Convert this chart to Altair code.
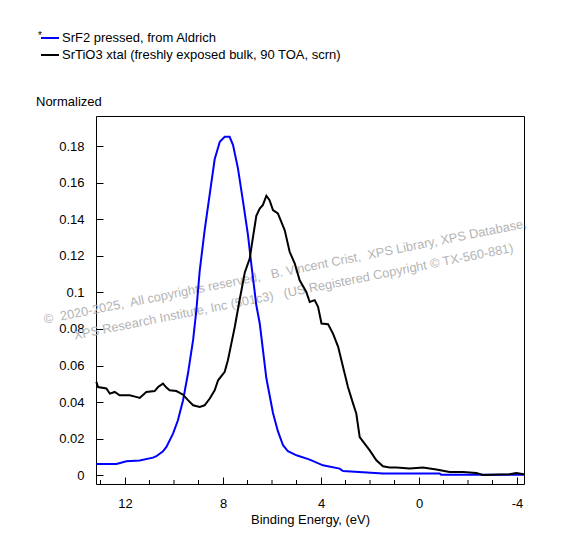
import altair as alt
import pandas as pd

# ---- data ----
srf2_E = [13.17, 12.35, 11.94, 11.40, 10.86, 10.72, 10.45, 10.31, 10.04, 9.84, 9.63, 9.43, 9.22,
          9.09, 8.95, 8.75, 8.54, 8.34, 8.13, 7.93, 7.73, 7.59, 7.39, 7.18, 6.98, 6.84, 6.64, 6.50,
          6.23, 5.96, 5.76, 5.55, 5.35, 5.00, 4.46, 3.92, 3.24, 3.10, 1.47, -0.84, -0.90, -4.28]
srf2_v = [0.0060, 0.0060, 0.0075, 0.0080, 0.0095, 0.0103, 0.0130, 0.0154, 0.0227, 0.0300, 0.0410,
          0.0556, 0.0740, 0.0900, 0.1120, 0.1340, 0.1540, 0.1730, 0.1826, 0.1853, 0.1853, 0.1808,
          0.1680, 0.1497, 0.1314, 0.1150, 0.0930, 0.0830, 0.0530, 0.0340, 0.0240, 0.0163, 0.0130,
          0.0108, 0.0084, 0.0053, 0.0035, 0.0022, 0.0008, 0.0008, 0.0002, 0.0002]

sto_E = [13.17, 13.10, 12.76, 12.62, 12.42, 12.22, 11.81, 11.55, 11.40, 11.13, 10.79, 10.65, 10.45,
         10.31, 10.18, 9.90, 9.63, 9.43, 9.22, 8.95, 8.75, 8.54, 8.34, 8.20, 7.93, 7.80, 7.66, 7.52,
         7.32, 7.11, 6.91, 6.78, 6.64, 6.50, 6.37, 6.23, 6.10, 5.96, 5.76, 5.48, 5.28, 5.07, 4.87,
         4.60, 4.46, 4.26, 4.12, 3.98, 3.71, 3.51, 3.30, 3.10, 2.90, 2.69, 2.56, 2.42, 2.22, 2.01,
         1.74, 1.47, 1.20, 0.92, 0.38, -0.16, -0.71, -1.25, -1.80, -2.34, -2.61, -3.70, -3.97, -4.28]
sto_v = [0.0510, 0.0482, 0.0474, 0.0446, 0.0455, 0.0437, 0.0437, 0.0428, 0.0422, 0.0455, 0.0460,
         0.0482, 0.0501, 0.0479, 0.0464, 0.0460, 0.0440, 0.0410, 0.0382, 0.0373, 0.0382, 0.0419,
         0.0464, 0.0519, 0.0565, 0.0629, 0.0720, 0.0811, 0.0960, 0.1110, 0.1186, 0.1300, 0.1420,
         0.1460, 0.1480, 0.1530, 0.1506, 0.1451, 0.1433, 0.1341, 0.1223, 0.1159, 0.1067, 0.1003,
         0.0948, 0.0958, 0.0921, 0.0830, 0.0826, 0.0775, 0.0702, 0.0592, 0.0482, 0.0391, 0.0337,
         0.0208, 0.0172, 0.0135, 0.0081, 0.0048, 0.0041, 0.0041, 0.0035, 0.0041, 0.0030, 0.0016,
         0.0016, 0.0011, 0.0000, 0.0004, 0.0011, 0.0004]

series_names = ["SrF2 pressed, from Aldrich", "SrTiO3 xtal (freshly exposed bulk, 90 TOA, scrn)"]
series_colors = ["#0000ff", "#000000"]

x_major = [12, 8, 4, 0, -4]
x_minor = [13, 11, 10, 9, 7, 6, 5, 3, 2, 1, -1, -2, -3]
y_major = [0, 0.02, 0.04, 0.06, 0.08, 0.1, 0.12, 0.14, 0.16, 0.18]

wm_text = ["\u00a9\u00a0 2020-2025,\u00a0 All copyrights reserved,\u00a0\u00a0 B. Vincent Crist,\u00a0 XPS Library, XPS Database,",
           "XPS Research Institute, Inc (501c3)\u00a0\u00a0 (US Registered Copyright \u00a9 TX-560-881)"]
wm_E = [5.46, 5.12]
wm_v = [0.1114, 0.1004]

X_DOMAIN = [-4.2857, 13.1837]
Y_DOMAIN = [-0.00493, 0.19671]
W, H = 428, 368
FONT = "Liberation Sans"
FS = 13
TICK = "black"

lines = pd.concat([
    pd.DataFrame({"E": srf2_E, "v": srf2_v, "series": series_names[0]}),
    pd.DataFrame({"E": sto_E, "v": sto_v, "series": series_names[1]}),
])

xscale = alt.Scale(domain=X_DOMAIN, reverse=True, nice=False, zero=False)
yscale = alt.Scale(domain=Y_DOMAIN, nice=False, zero=False)

xaxis = alt.Axis(values=x_major, labelExpr="datum.value + ''", domain=False,
                 offset=-7, tickSize=7, tickWidth=1, tickColor=TICK,
                 labelPadding=13, labelFontSize=FS,
                 labelFont=FONT, labelColor="black", title="Binding Energy, (eV)",
                 titleFont=FONT, titleFontSize=FS, titleFontWeight="normal",
                 titleColor="black", titlePadding=3, grid=False)
yaxis = alt.Axis(values=y_major, labelExpr="datum.value + ''", domain=False,
                 offset=-7, tickSize=7, tickWidth=1, tickColor=TICK,
                 labelPadding=12, labelFontSize=FS,
                 labelFont=FONT, labelColor="black", title="Normalized",
                 titleFont=FONT, titleFontSize=FS, titleFontWeight="normal",
                 titleColor="black", titleAngle=0, titleAlign="left",
                 titleBaseline="alphabetic", titleX=-67.5, titleY=-10.5, grid=False)

line_layer = alt.Chart(lines).mark_line(strokeWidth=2).encode(
    x=alt.X("E:Q", scale=xscale, axis=xaxis),
    y=alt.Y("v:Q", scale=yscale, axis=yaxis),
    color=alt.Color("series:N",
                    scale=alt.Scale(domain=series_names, range=series_colors),
                    legend=alt.Legend(title="*", orient="none", legendX=-58, legendY=-85,
                                      titleOrient="left", titleFontSize=10,
                                      titleFont=FONT, titleFontWeight="normal",
                                      titleColor="black",
                                      titleAnchor="start", titleBaseline="top",
                                      titlePadding=1, padding=0,
                                      symbolType="M-1.5,0H1.5", symbolSize=144,
                                      symbolStrokeWidth=2, labelFont=FONT,
                                      labelFontSize=FS, labelColor="black",
                                      labelOffset=5, rowPadding=3,
                                      labelLimit=500)),
    order=alt.Order("E:Q", sort="descending"),
)

xmin = alt.Chart(pd.DataFrame({"t": x_minor})).mark_rule(color=TICK, strokeWidth=1).encode(
    x=alt.X("t:Q", scale=xscale),
    y=alt.value(H),
    y2=alt.value(H - 4),
)

wm = alt.Chart(pd.DataFrame({"E": wm_E, "v": wm_v, "txt": wm_text})).mark_text(
    angle=348.7, font=FONT, fontSize=12.8, color="#b4b4b4", align="center", baseline="middle"
).encode(
    x=alt.X("E:Q", scale=xscale),
    y=alt.Y("v:Q", scale=yscale),
    text="txt:N",
)

chart = alt.layer(wm, line_layer, xmin).properties(
    width=W, height=H,
    padding={"left": 88, "top": 108, "right": 40, "bottom": 50},
    autosize=alt.AutoSizeParams(type="none"),
    background="white",
).configure_view(stroke="black", strokeWidth=1)

chart.save("out.html", embed_options={"renderer": "svg", "actions": False})
